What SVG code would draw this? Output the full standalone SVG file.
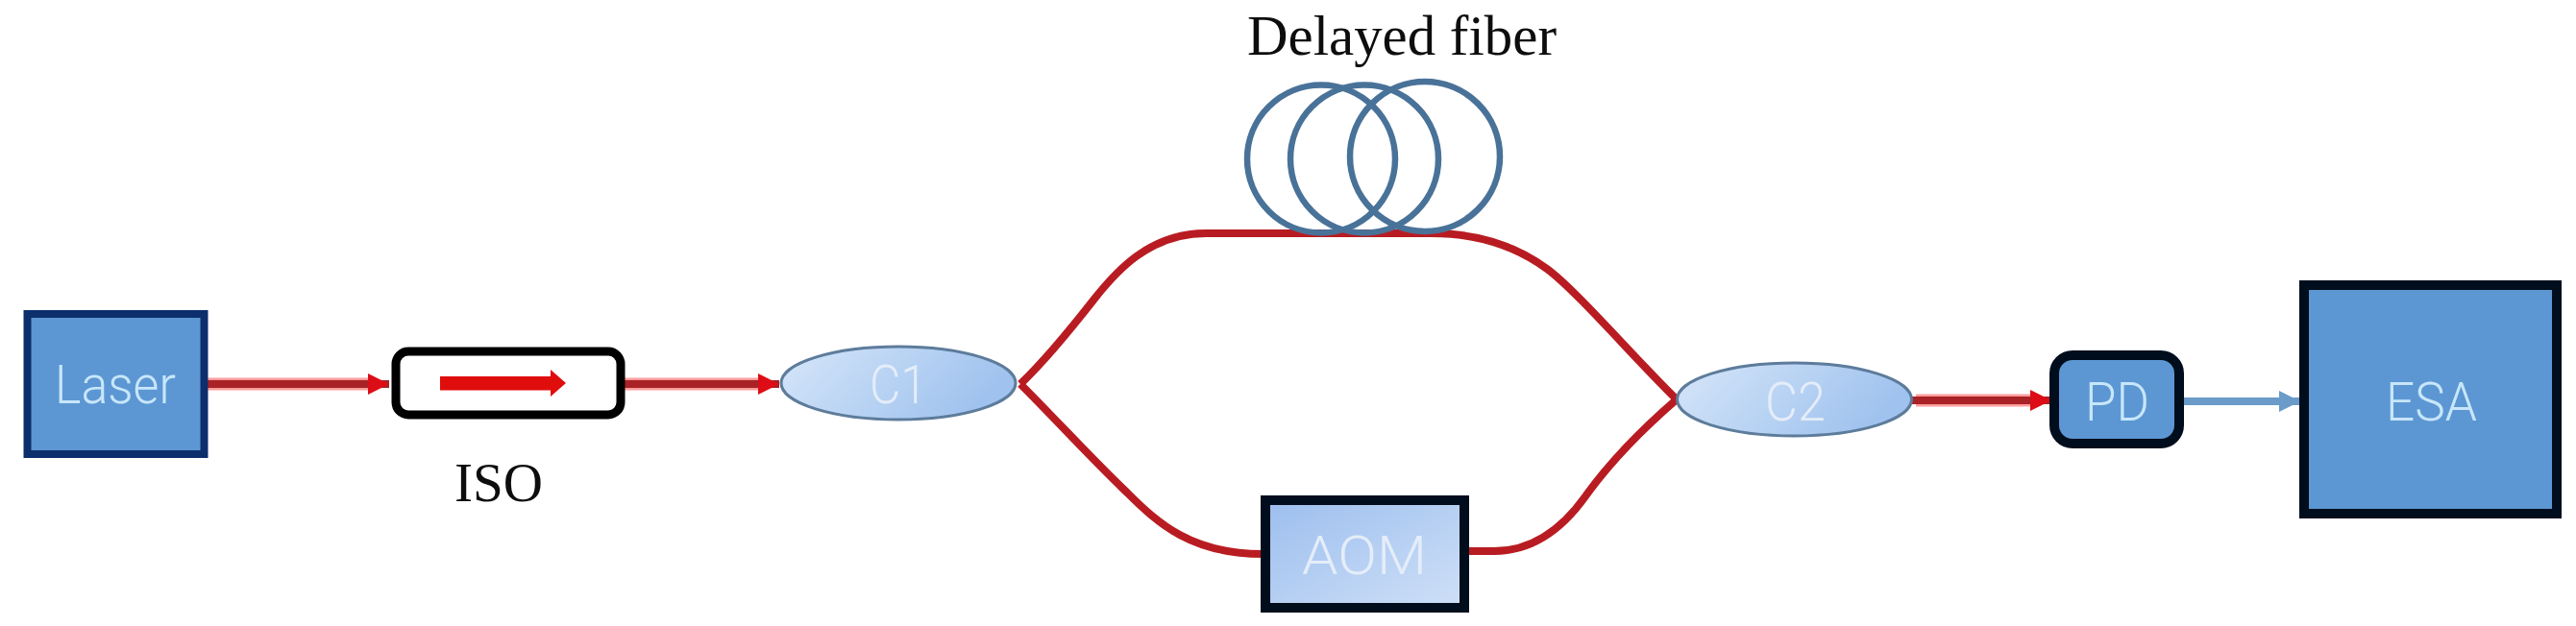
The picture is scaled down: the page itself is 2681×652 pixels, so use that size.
<svg xmlns="http://www.w3.org/2000/svg" width="2681" height="652" viewBox="0 0 2681 652">
<style>
.lbl{font-family:Roboto,"Liberation Sans",sans-serif;font-weight:300;font-size:56px;text-anchor:start}
.cap{font-family:"Liberation Serif",serif;fill:#111}
.red{fill:none;stroke:#b81c20;stroke-width:8}
.line{fill:none;stroke:#a82428;stroke-width:8}
.halo{fill:none;stroke:#ff9c9c;stroke-width:13}
.blue{fill:none;stroke:#6b9bc9;stroke-width:8}
.coil{fill:none;stroke:#4a7299;stroke-width:6.5}
.box{stroke:#00101f;stroke-width:10}
.solid{fill:#5b97d3}
.ell{stroke:#5d7b9b;stroke-width:3}
</style>
<defs>
<filter id="soft" x="-5%" y="-5%" width="110%" height="110%"><feGaussianBlur stdDeviation="0.7"/></filter>
<linearGradient id="gradE" x1="0" y1="0" x2="1" y2="0.3"><stop offset="0" stop-color="#d6e6f9"/><stop offset="1" stop-color="#9fc2ee"/></linearGradient>
<linearGradient id="gradA" x1="0" y1="0" x2="1" y2="1"><stop offset="0" stop-color="#9cbeee"/><stop offset="1" stop-color="#cfe0f7"/></linearGradient>
<marker id="headR" markerUnits="userSpaceOnUse" markerWidth="24" markerHeight="24" refX="24" refY="12" orient="auto"><path d="M2 1 L24 12 L2 23 Z" fill="#dc0f12"/></marker>
<marker id="headB" markerUnits="userSpaceOnUse" markerWidth="24" markerHeight="24" refX="24" refY="12" orient="auto"><path d="M2 1 L24 12 L2 23 Z" fill="#6b9bc9"/></marker>
</defs>
<rect width="2681" height="652" fill="#fff"/>
<g filter="url(#soft)">
<g id="connectors">
<path class="halo" d="M213 400H390M650 400H792M1994 417H2116"/>
<path class="line" d="M213 400H405" marker-end="url(#headR)"/>
<path class="line" d="M650 400H811" marker-end="url(#headR)"/>
<path class="line" d="M1990 417H2135" marker-end="url(#headR)"/>
<path class="blue" d="M2268 418H2394" marker-end="url(#headB)"/>
<path class="red" d="M1062 400C1085 378 1115 342 1140 310C1160 285 1195 243 1255 243H1490C1540 243 1580 258 1610 280C1640 302 1700 372 1745 416"/>
<path class="red" d="M1062 400C1100 438 1140 482 1173 513C1205 545 1240 577 1314 577"/>
<path class="red" d="M1527 574H1555C1600 574 1630 545 1650 517C1670 489 1700 455 1745 416"/>
</g>
<g id="node-laser"><rect class="solid" x="28.5" y="327" width="184" height="146" stroke="#0f2f6c" stroke-width="8"/><text class="lbl" x="57" y="420" textLength="126" lengthAdjust="spacingAndGlyphs" fill="#c8e6fb">Laser</text></g>
<g id="node-iso"><rect x="412" y="366" width="234" height="66" rx="13" fill="#fff" stroke="#000" stroke-width="9"/><rect x="458" y="392" width="116" height="14.500" fill="#e00d10"/><path d="M573 385L589 399L573 413Z" fill="#e00d10"/><text class="cap" x="473" y="522" font-size="58" textLength="92" lengthAdjust="spacingAndGlyphs">ISO</text></g>
<g id="node-c1"><ellipse class="ell" cx="935" cy="399" rx="122" ry="38" fill="url(#gradE)"/><text class="lbl" x="905" y="420" textLength="60" lengthAdjust="spacingAndGlyphs" fill="#e4edf9">C1</text></g>
<g id="node-fiber"><circle class="coil" cx="1375" cy="165.500" r="77"/><circle class="coil" cx="1420" cy="165.500" r="77"/><circle class="coil" cx="1483" cy="163" r="78"/><text class="cap" x="1298" y="57" font-size="59" textLength="322" lengthAdjust="spacingAndGlyphs">Delayed fiber</text></g>
<g id="node-aom"><rect class="box" x="1317" y="521" width="207" height="112" fill="url(#gradA)"/><text class="lbl" x="1355" y="598" textLength="130" lengthAdjust="spacingAndGlyphs" fill="#e4edf9">AOM</text></g>
<g id="node-c2"><ellipse class="ell" cx="1867.500" cy="416" rx="122" ry="38" fill="url(#gradE)"/><text class="lbl" x="1837" y="438" textLength="63" lengthAdjust="spacingAndGlyphs" fill="#e4edf9">C2</text></g>
<g id="node-pd"><rect class="box solid" x="2138" y="370" width="130" height="92" rx="19"/><text class="lbl" x="2170" y="438" textLength="67" lengthAdjust="spacingAndGlyphs" fill="#c8e6fb">PD</text></g>
<g id="node-esa"><rect class="box solid" x="2398" y="297" width="263" height="238"/><text class="lbl" x="2483" y="438" textLength="95" lengthAdjust="spacingAndGlyphs" fill="#c8e6fb">ESA</text></g>
</g>
</svg>
